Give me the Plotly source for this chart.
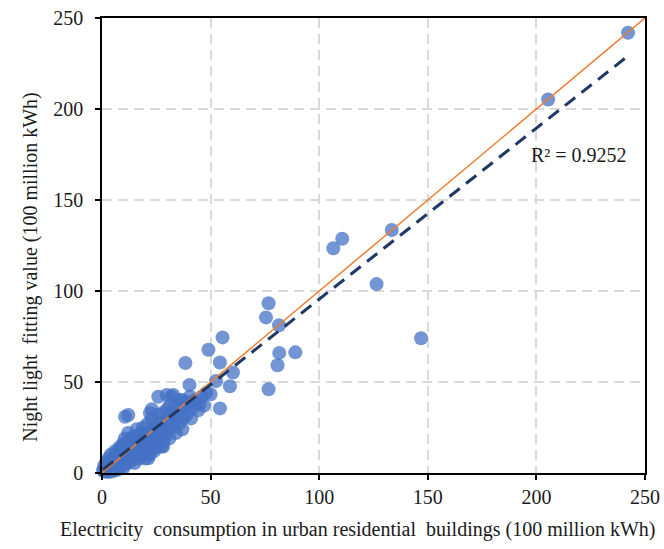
import plotly.graph_objects as go

# Observed electricity consumption (x) vs. night-light fitted value (y), 100 million kWh
consumption = [
    # dense group of small cities
    1, 1.5, 2, 2, 2.5, 3, 3, 3.5, 4, 4, 4.5, 5, 5, 5, 5.5, 6, 6, 6.5, 6.5, 7,
    7, 7.5, 7.5, 8, 8, 8, 8.5, 9, 9, 9.5, 9.5, 10, 10, 10, 10.5, 11, 11, 11,
    11.5, 12, 12, 12.5, 13, 13, 13.5, 14, 14, 14.5, 15, 15, 10.6, 12.1,
    0.5, 1, 2, 3, 3.5, 4, 5, 6, 7, 8, 9, 10, 12, 13, 14, 16,
    15.5, 16, 16, 16.5, 17, 17, 17.5, 18, 18, 18.5, 19, 19, 19.5, 20, 20, 20.5,
    21, 21, 21.5, 22, 22, 22.5, 23, 23, 23.5, 24, 24, 24.5, 25, 25, 25.5, 26,
    26, 26.5, 27, 27, 27.5, 28, 28, 28.5, 29, 29.5, 30, 30, 30.5, 31, 31.5,
    32, 32, 33, 33.5, 34, 34, 35, 35.5, 36, 36.5, 37, 37.5, 38, 39, 40, 40.5,
    41, 42, 43, 45, 46, 47, 48, 22.9, 22.1, 25.9, 29.8, 31.3, 36.7, 40.5,
    21.3, 28.2, 27.6, 32.8, 42, 38.2,
    # larger cities
    44.3, 40.3, 50.0, 54.3, 52.5, 58.9, 60.3, 76.7, 80.8, 81.6, 89.0, 54.3,
    38.4, 49.0, 55.5, 75.5, 76.7, 81.5, 126.4, 146.9, 106.5, 110.6, 133.4,
    205.4, 242.2,
]
fitted = [
    1, 2.5, 1, 3.5, 0.5, 2, 5, 1.5, 3, 6, 0.8, 4, 8, 2, 5.5, 3, 7, 10, 1.5, 5,
    9, 4, 12, 6, 2.5, 14, 8, 4, 11, 6.5, 16, 9, 3, 13, 19, 7, 11, 5,
    15, 9, 22, 13, 6, 17, 11, 8, 14, 20, 12, 5.5, 30.9, 31.9,
    1.5, 4, 6, 8, 3.5, 10, 6.5, 12, 7.5, 10, 13, 15, 17, 10, 19, 20,
    17, 10, 24, 14, 8, 19, 12, 16, 22, 10, 14, 25, 18, 12, 8, 21,
    16, 27, 13, 19, 10, 23, 15, 30, 20, 17, 12, 26, 21, 14, 18, 24,
    32, 16, 28, 20, 14.5, 23, 33, 18, 26, 21, 30, 35, 24, 19, 28,
    33, 42, 25, 30, 36, 22, 31, 27, 40, 34, 24, 30, 37, 32, 38.3, 42,
    30, 36, 40, 38, 42, 37, 44, 35, 32.8, 41.9, 42.9, 37.4, 40.1, 38.3,
    8.1, 14.5, 18, 42.9, 39.2, 39.2,
    34.4, 48.4, 43.3, 35.5, 50.5, 47.7, 55.2, 46.0, 59.2, 66.0, 66.3, 60.7,
    60.4, 67.7, 74.5, 85.5, 93.3, 81.2, 103.8, 74.0, 123.5, 128.7, 133.5,
    205.2, 241.9,
]

# Linear trend of fitted on observed values
TREND_SLOPE = 0.94
TREND_INTERCEPT = 1.5
R_SQUARED = 0.9252

AXIS_MAX = 250
tick_values = [0, 50, 100, 150, 200, 250]

x_lo, x_hi = min(consumption), max(consumption)
trend_x = [x_lo, x_hi]
trend_y = [TREND_SLOPE * v + TREND_INTERCEPT for v in trend_x]

SERIF = "Liberation Serif, Times New Roman, serif"
TEXT_COLOR = "#1a1a1a"

fig = go.Figure()

fig.add_trace(go.Scatter(
    x=consumption, y=fitted, mode="markers",
    marker=dict(size=14, color="#4472C4", opacity=0.75, line=dict(width=0)),
    showlegend=False, cliponaxis=False,
))

# 1:1 reference line
fig.add_trace(go.Scatter(
    x=[0, AXIS_MAX], y=[0, AXIS_MAX], mode="lines",
    line=dict(color="#ED7D31", width=1.5),
    showlegend=False,
))

# fitted trend line
fig.add_trace(go.Scatter(
    x=trend_x, y=trend_y, mode="lines",
    line=dict(color="#1F3864", width=3, dash="13px,8px"),
    showlegend=False,
))

fig.add_annotation(
    x=196.6, y=174.7, xref="x", yref="y",
    text=f"R\u00b2 = {R_SQUARED}", showarrow=False,
    xanchor="left", yanchor="middle",
    font=dict(family=SERIF, size=20, color=TEXT_COLOR),
)

# axis titles
fig.add_annotation(
    x=0.471, y=-0.125, xref="paper", yref="paper",
    text="Electricity\u00a0 consumption in urban residential\u00a0 buildings (100 million kWh)",
    showarrow=False, xanchor="center", yanchor="middle",
    font=dict(family=SERIF, size=20, color=TEXT_COLOR),
)
fig.add_annotation(
    x=-0.132, y=0.452, xref="paper", yref="paper",
    text="Night light\u00a0 fitting value (100 million kWh)",
    textangle=-90, showarrow=False, xanchor="center", yanchor="middle",
    font=dict(family=SERIF, size=20, color=TEXT_COLOR),
)

axis_common = dict(
    range=[0, AXIS_MAX],
    tickvals=tick_values,
    ticks="outside", ticklen=5, tickwidth=1.5, tickcolor="black",
    showline=True, linecolor="black", linewidth=1.5, mirror=True,
    showgrid=True, gridcolor="#D9D9D9", gridwidth=1.5, griddash="10px,6px",
    zeroline=False, automargin=False,
    tickfont=dict(family=SERIF, size=20, color=TEXT_COLOR),
)

fig.update_xaxes(**axis_common)
fig.update_yaxes(**axis_common, ticklabelstandoff=8)

fig.update_layout(
    width=664, height=549,
    margin=dict(l=102, r=19, t=18, b=76),
    paper_bgcolor="white", plot_bgcolor="white",
)

fig.write_html("out.html")
